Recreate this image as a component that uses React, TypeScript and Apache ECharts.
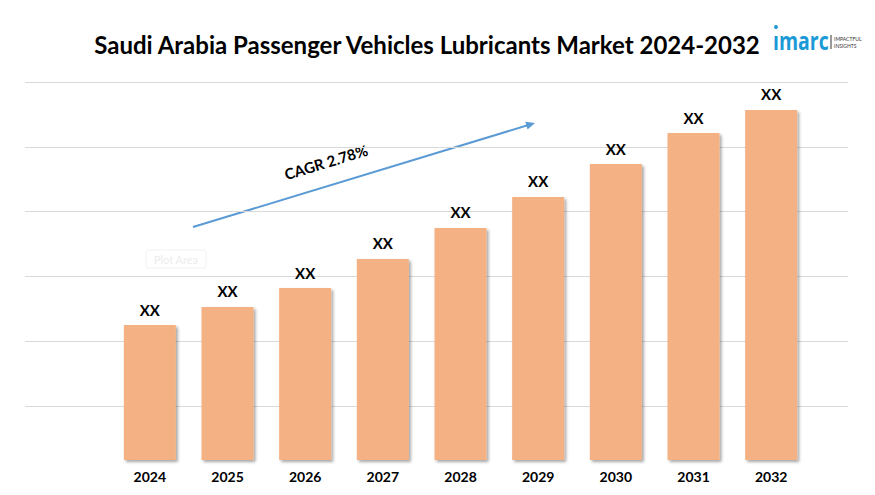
import React, { useEffect, useRef } from "react";
import * as echarts from "echarts";

const years = ["2024", "2025", "2026", "2027", "2028", "2029", "2030", "2031", "2032"];
const marketValues = [3.57, 4.05, 4.55, 5.32, 6.14, 6.96, 7.83, 8.65, 9.26];
const barLabel = "XX";
const gridTicks = [0, 1, 2, 3, 4, 5, 6];
const titleText = "Saudi Arabia Passenger Vehicles Lubricants Market 2024-2032";
const cagrText = "CAGR 2.78%";

export default function App() {
  const ref = useRef<HTMLDivElement>(null);
  useEffect(() => {
    if (!ref.current) return;
    const chart = echarts.init(ref.current, null, { renderer: "svg" });
    const font = "Lato, 'Open Sans', sans-serif";
    const ax = 193, ay = 227, bx = 535, by = 123;
    const ang = Math.atan2(by - ay, bx - ax);
    const hl = 9, hw = 4;
    const p1 = [bx, by];
    const p2 = [bx - hl * Math.cos(ang) + hw * Math.sin(ang), by - hl * Math.sin(ang) - hw * Math.cos(ang)];
    const p3 = [bx - hl * Math.cos(ang) - hw * Math.sin(ang), by - hl * Math.sin(ang) + hw * Math.cos(ang)];
    chart.setOption({
      animation: false,
      backgroundColor: "#ffffff",
      grid: [
        { left: 25, right: 27, top: 82, bottom: 24 },
        { left: 111, right: 65, top: 82, bottom: 35 },
      ],
      xAxis: [
        { gridIndex: 0, type: "category", data: years, show: false },
        {
          gridIndex: 1,
          type: "category",
          data: years,
          axisLine: { show: false },
          axisTick: { show: false },
          axisLabel: {
            color: "#000",
            fontFamily: font,
            fontWeight: "bold",
            fontSize: 14,
            margin: 9,
          },
        },
      ],
      yAxis: [
        {
          gridIndex: 0,
          type: "value",
          min: gridTicks[0],
          max: gridTicks[gridTicks.length - 1],
          interval: 1,
          axisLine: { show: false },
          axisTick: { show: false },
          axisLabel: { show: false },
          splitLine: { show: true, showMinLine: false, lineStyle: { color: "#d9d9d9", width: 1 } },
        },
        {
          gridIndex: 1,
          type: "value",
          min: 0,
          max: 10,
          show: false,
          splitLine: { show: false },
        },
      ],
      series: [
        {
          type: "bar",
          xAxisIndex: 1,
          yAxisIndex: 1,
          data: marketValues,
          barWidth: 52,
          itemStyle: {
            color: "#F4B183",
            shadowColor: "rgba(0,0,0,0.35)",
            shadowBlur: 3,
            shadowOffsetX: 2,
            shadowOffsetY: 2,
          },
          label: {
            show: true,
            position: "top",
            distance: 8,
            formatter: () => barLabel,
            color: "#000",
            fontFamily: font,
            fontWeight: "bold",
            fontSize: 15,
          },
        },
      ],
      graphic: [
        {
          type: "text",
          x: 427,
          y: 44,
          style: {
            text: titleText,
            fontFamily: font,
            fontWeight: "bold",
            fontSize: 24,
            fill: "#000",
            align: "center",
            verticalAlign: "middle",
          },
        },
        {
          type: "line",
          shape: { x1: ax, y1: ay, x2: p1[0] - 6 * Math.cos(ang), y2: p1[1] - 6 * Math.sin(ang) },
          style: { stroke: "#5B9BD5", lineWidth: 2 },
        },
        {
          type: "polygon",
          shape: { points: [p1, p2, p3] },
          style: { fill: "#5B9BD5" },
        },
        {
          type: "text",
          x: 326,
          y: 162,
          rotation: -ang,
          style: {
            text: cagrText,
            fontFamily: font,
            fontWeight: "bold",
            fontSize: 15,
            fill: "#000",
            align: "center",
            verticalAlign: "middle",
          },
        },
        {
          type: "rect",
          shape: { x: 146, y: 250, width: 60, height: 18, r: 2 },
          style: { fill: "#fff", stroke: "#f2f2f2", lineWidth: 1 },
        },
        {
          type: "text",
          x: 176,
          y: 259,
          style: {
            text: "Plot Area",
            fontFamily: font,
            fontSize: 11,
            fill: "#ececec",
            align: "center",
            verticalAlign: "middle",
          },
        },
        {
          type: "circle",
          shape: { cx: 776, cy: 27, r: 2 },
          style: { fill: "#1C9AD6" },
        },
        {
          type: "text",
          x: 773,
          y: 41,
          scaleX: 0.78,
          style: {
            text: "ımarc",
            fontFamily: "'Open Sans', sans-serif",
            fontWeight: "bold",
            fontSize: 25,
            fill: "#1C9AD6",
            verticalAlign: "middle",
          },
        },
        {
          type: "line",
          shape: { x1: 831, y1: 35, x2: 831, y2: 49 },
          style: { stroke: "#333", lineWidth: 1 },
        },
        {
          type: "text",
          x: 834,
          y: 39,
          style: { text: "IMPACTFUL", fontFamily: font, fontSize: 5, fill: "#333", verticalAlign: "middle" },
        },
        {
          type: "text",
          x: 834,
          y: 46,
          style: { text: "INSIGHTS", fontFamily: font, fontSize: 5, fill: "#333", verticalAlign: "middle" },
        },
      ],
    });
    return () => chart.dispose();
  }, []);
  return (
    <div
      ref={ref}
      style={{ position: "fixed", left: 0, top: 0, width: 875, height: 495 }}
    />
  );
}
